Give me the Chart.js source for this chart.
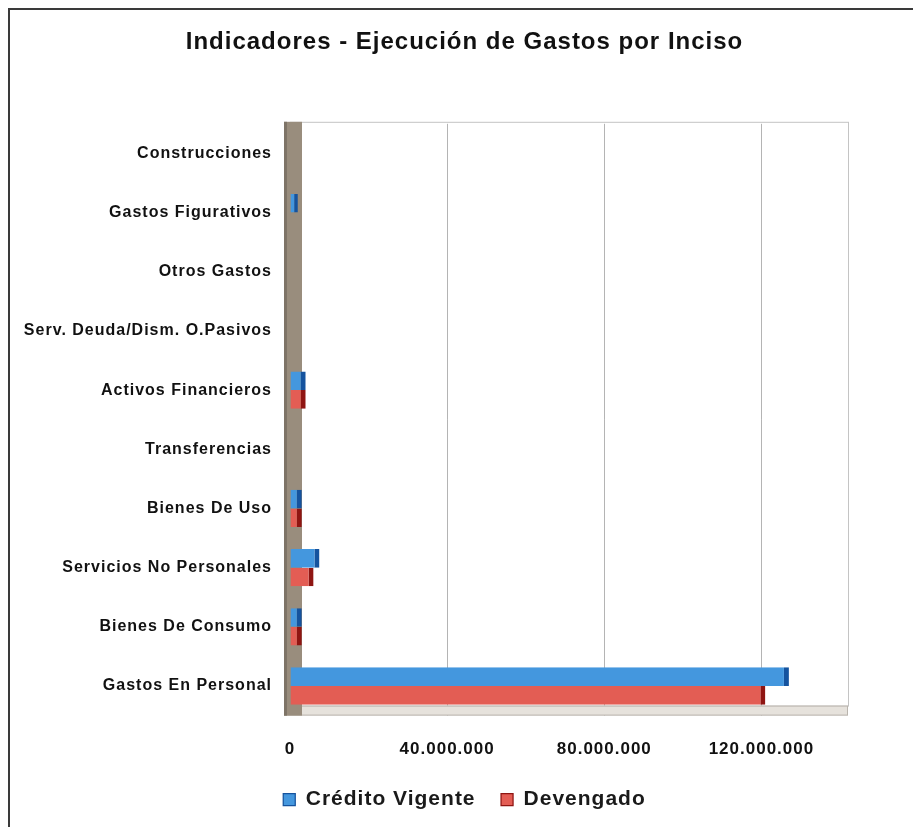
<!DOCTYPE html>
<html>
<head>
<meta charset="utf-8">
<script src="https://cdn.jsdelivr.net/npm/chart.js@4/dist/chart.umd.min.js"></script>
<style>
    html, body { margin: 0; padding: 0; background: #fff; overflow: hidden; }
    #frame {
        position: absolute; left: 8px; top: 8px;
        width: 903px; height: 831px;
        border-left: 2px solid #3a3a3a; border-top: 2px solid #3a3a3a;
        background: #fff;
    }
    #chart { display: block; }
</style>
</head>
<body>
<div id="frame"><canvas id="chart" width="903" height="810"></canvas></div>
<script>
// categories listed top to bottom, as in the picture
var categories = [
    'Construcciones',
    'Gastos Figurativos',
    'Otros Gastos',
    'Serv. Deuda/Dism. O.Pasivos',
    'Activos Financieros',
    'Transferencias',
    'Bienes De Uso',
    'Servicios No Personales',
    'Bienes De Consumo',
    'Gastos En Personal'
];
var creditoVigente = [0, 2000000, 0, 0, 4000000, 0, 3000000, 7500000, 3000000, 127000000];
var devengado = [0, 0, 0, 0, 4000000, 0, 3000000, 6000000, 3000000, 121000000];
var xTicks = [0, 40000000, 80000000, 120000000];
var xMax = 140000000;

function formatMiles(value) {
    return String(Math.round(value)).replace(/\B(?=(\d{3})+(?!\d))/g, '.');
}

var fontFamily = '"Liberation Sans", Arial, sans-serif';

// the original uses a loosely spaced font, so widen every text a bit
var spacingPlugin = {
    id: 'spacing',
    beforeLayout: function (chart) { chart.ctx.letterSpacing = '1px'; },
    beforeDraw: function (chart) { chart.ctx.letterSpacing = '1px'; }
};

// grey side wall, floor and outline of the back plane
var wallPlugin = {
    id: 'wall',
    beforeDatasetsDraw: function (chart) {
        var a = chart.chartArea;
        var ctx = chart.ctx;
        ctx.save();
        ctx.strokeStyle = '#c4c4c4';
        ctx.lineWidth = 1;
        ctx.strokeRect(a.left + 0.5, a.top - 1.5, a.right - a.left + 8, a.bottom - a.top - 8);
        ctx.fillStyle = '#e6e2dc';
        ctx.fillRect(a.left - 6, a.bottom - 10, a.right - a.left + 14, 10);
        ctx.strokeStyle = '#b9b4ad';
        ctx.strokeRect(a.left - 5.5, a.bottom - 9.5, a.right - a.left + 13, 9);
        ctx.fillStyle = '#998d7d';
        ctx.fillRect(a.left - 6, a.top - 2, 18, a.bottom - a.top + 2);
        ctx.fillStyle = '#7e7467';
        ctx.fillRect(a.left - 6, a.top - 2, 3, a.bottom - a.top + 2);
        ctx.restore();
    }
};

new Chart(document.getElementById('chart').getContext('2d'), {
    type: 'bar',
    data: {
        labels: categories,
        datasets: [
            {
                label: 'Crédito Vigente',
                data: creditoVigente,
                backgroundColor: '#4497de',
                borderColor: '#15539e',
                borderWidth: { right: 5 },
                borderSkipped: false
            },
            {
                label: 'Devengado',
                data: devengado,
                backgroundColor: '#e35d54',
                borderColor: '#8f1512',
                borderWidth: { right: 5 },
                borderSkipped: false
            }
        ]
    },
    options: {
        indexAxis: 'y',
        responsive: false,
        animation: false,
        categoryPercentage: 0.63,
        barPercentage: 1,
        layout: { padding: { left: 6, right: 0, bottom: 0 } },
        plugins: {
            title: {
                display: true,
                text: 'Indicadores - Ejecución de Gastos por Inciso',
                color: '#111',
                font: { family: fontFamily, size: 24, weight: 'bold' },
                padding: { top: 18, bottom: 67 }
            },
            legend: {
                position: 'bottom',
                labels: {
                    color: '#1a1a1a',
                    font: { family: fontFamily, size: 21, weight: 'bold' },
                    boxWidth: 12,
                    boxHeight: 12,
                    padding: 5,
                    // small padding keeps the legend high; spaces keep the items apart
                    generateLabels: function (chart) {
                        var items = Chart.defaults.plugins.legend.labels.generateLabels(chart);
                        items.forEach(function (item, i) {
                            if (i < items.length - 1) {
                                item.text = item.text + '   ';
                            }
                        });
                        return items;
                    }
                }
            },
            tooltip: { enabled: false }
        },
        scales: {
            x: {
                min: 0,
                max: xMax,
                afterBuildTicks: function (scale) {
                    scale.ticks = xTicks.map(function (v) { return { value: v }; });
                },
                grid: {
                    color: function (c) { return c.tick && c.tick.value === 0 ? 'rgba(0,0,0,0)' : '#b4b4b4'; },
                    drawTicks: false
                },
                border: { display: false },
                ticks: {
                    color: '#111',
                    padding: 24,
                    font: { family: fontFamily, size: 17, weight: 'bold' },
                    callback: function (value) { return formatMiles(value); }
                }
            },
            y: {
                afterFit: function (scale) { scale.width = 274; },
                grid: { display: false },
                border: { display: false },
                ticks: {
                    color: '#111',
                    padding: 10,
                    font: { family: fontFamily, size: 16, weight: 'bold' }
                }
            },
            // empty axis that only keeps the right margin free
            yRight: {
                type: 'category',
                position: 'right',
                afterFit: function (scale) { scale.width = 73; },
                grid: { display: false },
                border: { display: false },
                ticks: { display: false }
            }
        }
    },
    plugins: [spacingPlugin, wallPlugin]
});
</script>
</body>
</html>
